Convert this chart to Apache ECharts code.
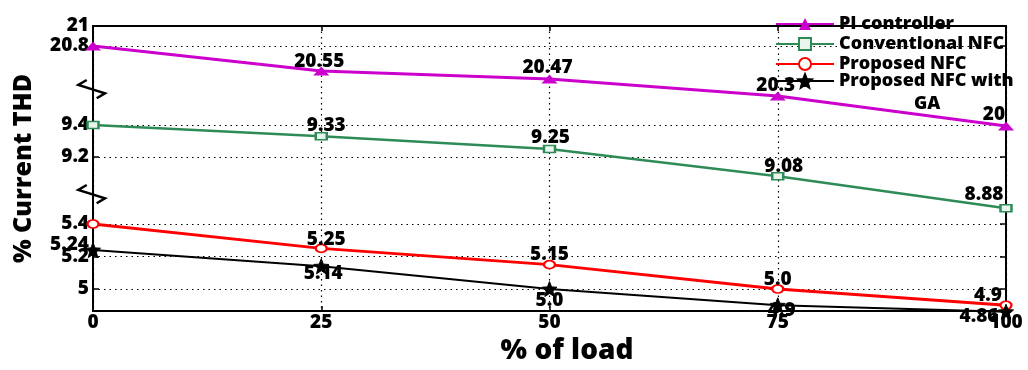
<!DOCTYPE html>
<html>
<head>
<meta charset="utf-8">
<script src="https://cdn.jsdelivr.net/npm/echarts@6/dist/echarts.min.js"></script>
<style>
  html, body { margin: 0; padding: 0; background: #fff; }
  #chart { width: 1028px; height: 370px; }
</style>
</head>
<body>
<div id="chart"></div>
<script>
// % of load on the x axis
const loads = [0, 25, 50, 75, 100];

// % current THD for each controller
const piController = [20.8, 20.55, 20.47, 20.3, 20];
const conventionalNfc = [9.4, 9.33, 9.25, 9.08, 8.88];
const proposedNfc = [5.4, 5.25, 5.15, 5.0, 4.9];
const proposedNfcGa = [5.24, 5.14, 5.0, 4.9, 4.86];

// value labels printed next to the points ('' = no label)
const piLabels = ['', '20.55', '20.47', '20.3', '20'];
const conventionalLabels = ['', '9.33', '9.25', '9.08', '8.88'];
const proposedLabels = ['', '5.25', '5.15', '5.0', '4.9'];
const proposedGaLabels = ['5.24', '5.14', '5.0', '4.9', '4.86'];

// y-axis ranges of the three stacked (broken) bands
const bandTop = { min: 20.8, max: 21, interval: 0.2 };
const bandMid = { min: 9.2, max: 9.4, interval: 0.2 };
const bandLow = { min: 5.0, max: 5.4, interval: 0.2 };

const seriesNames = ['PI controller', 'Conventional NFC', 'Proposed NFC', 'Proposed NFC with GA'];

// label offsets (px) relative to each point
const piOffsets = [[0, 0], [-2, -9], [-2, -11], [-2, -10], [-12, -11]];
const conventionalOffsets = [[0, 0], [5, -11], [1, -11], [6, -10], [-22, -14]];
const proposedOffsets = [[0, 0], [5, -9], [0, -10.5], [0, -9], [-18, -10]];
const proposedGaOffsets = [[-23.5, -5.5], [2, 7], [0, 11.5], [4, 5], [-27, 4.6]];

const FONT = '"Open Sans"';
const WEIGHT = 800;
const PLOT = { left: 93, right: 22 };

function points(values, labels, offsets) {
  return loads.map((x, i) => ({
    value: [x, values[i]],
    label: {
      show: labels[i] !== '',
      formatter: labels[i],
      position: 'inside',
      offset: offsets[i]
    }
  }));
}

const labelStyle = {
  fontFamily: FONT, fontSize: 19, fontWeight: WEIGHT, color: '#000'
};

function bandAxisLeft(gridIndex, band) {
  return {
    gridIndex, type: 'value', position: 'left',
    min: band.min, max: band.max, interval: band.interval,
    axisLine: { show: false },
    axisTick: { show: true, inside: true, length: 6, lineStyle: { color: '#000', width: 1.5 } },
    axisLabel: { color: '#000', fontFamily: FONT, fontSize: 19, fontWeight: WEIGHT, margin: 4 },
    splitLine: { show: true, lineStyle: { color: '#000', type: [1.5, 4], width: 1.2 } }
  };
}

function bandAxisRight(gridIndex, band) {
  return {
    gridIndex, type: 'value', position: 'right',
    min: band.min, max: band.max, interval: band.interval,
    axisLine: { show: false },
    axisTick: { show: true, inside: true, length: 6, lineStyle: { color: '#000', width: 1.5 } },
    axisLabel: { show: false },
    splitLine: { show: false }
  };
}

function hiddenX(gridIndex) {
  return { gridIndex, type: 'value', min: 0, max: 100, show: false };
}

const starPath = 'path://M0,-10L2.6,-3.5L9.5,-3.1L4.2,1.4L5.9,8.1L0,4.4L-5.9,8.1L-4.2,1.4L-9.5,-3.1L-2.6,-3.5Z';

const legendText = {
  fontFamily: FONT, fontSize: 18, fontWeight: WEIGHT, color: '#000', lineHeight: 20
};

const chart = echarts.init(document.getElementById('chart'), null, { renderer: 'canvas' });

const option = {
  animation: false,
  backgroundColor: '#fff',
  textStyle: { fontFamily: FONT },
  grid: [
    { left: PLOT.left, right: PLOT.right, top: 26, bottom: 47, show: true, borderColor: '#000', borderWidth: 2 },
    { left: PLOT.left, right: PLOT.right, top: 26, height: 20 },
    { left: PLOT.left, right: PLOT.right, top: 125, height: 32 },
    { left: PLOT.left, right: PLOT.right, top: 224, height: 65 }
  ],
  xAxis: [
    {
      gridIndex: 0, type: 'value', position: 'bottom', min: 0, max: 100, interval: 25,
      axisLine: { show: false },
      axisTick: { show: true, inside: true, length: 5, lineStyle: { color: '#000', width: 1.5 } },
      axisLabel: { color: '#000', fontFamily: FONT, fontSize: 19, fontWeight: WEIGHT, margin: 2 },
      splitLine: { show: true, lineStyle: { color: '#000', type: [1.5, 4], width: 1.2 } },
      name: '{n|% of load}', nameLocation: 'middle', nameGap: 25,
      nameTextStyle: {
        rich: { n: { color: '#000', fontFamily: FONT, fontSize: 28, fontWeight: WEIGHT, padding: [0, 0, 0, 35] } }
      }
    },
    {
      gridIndex: 0, type: 'value', position: 'top', min: 0, max: 100, interval: 25,
      axisLine: { show: false },
      axisTick: { show: true, inside: true, length: 5, lineStyle: { color: '#000', width: 1.5 } },
      axisLabel: { show: false },
      splitLine: { show: false }
    },
    hiddenX(1), hiddenX(2), hiddenX(3)
  ],
  yAxis: [
    {
      gridIndex: 0, type: 'value', min: 0, max: 1,
      axisLine: { show: false }, axisTick: { show: false }, axisLabel: { show: false }, splitLine: { show: false },
      name: '% Current THD', nameLocation: 'middle', nameGap: 57,
      nameTextStyle: { color: '#000', fontFamily: FONT, fontSize: 25, fontWeight: WEIGHT }
    },
    bandAxisLeft(1, bandTop), bandAxisLeft(2, bandMid), bandAxisLeft(3, bandLow),
    bandAxisRight(1, bandTop), bandAxisRight(2, bandMid), bandAxisRight(3, bandLow)
  ],
  legend: [
    {
      orient: 'vertical', left: 775, top: 14, padding: 0, itemGap: 0,
      itemWidth: 58, itemHeight: 15,
      textStyle: legendText,
      data: [seriesNames[0], seriesNames[1], seriesNames[2]]
    },
    {
      // last entry wraps onto a second, indented line
      orient: 'vertical', left: 775, top: 45, padding: 0, itemGap: 0,
      itemWidth: 58, itemHeight: 17,
      textStyle: Object.assign({}, legendText, {
        padding: [26, 0, 0, 0],
        rich: { g: { fontFamily: FONT, fontSize: 18, fontWeight: WEIGHT, color: '#000', lineHeight: 26, padding: [0, 0, 0, 75] } }
      }),
      data: [seriesNames[3]],
      formatter: () => 'Proposed NFC with\n{g|GA}'
    }
  ],
  graphic: [
    { type: 'polyline', z: 100, shape: { points: [[86.7, 80], [78.3, 85], [105, 93.3], [96.7, 98.3]] },
      style: { stroke: '#000', lineWidth: 2.5, fill: null } },
    { type: 'polyline', z: 100, shape: { points: [[86.7, 185], [78.3, 190], [105, 198.3], [96.7, 203.3]] },
      style: { stroke: '#000', lineWidth: 2.5, fill: null } }
  ],
  series: [
    {
      name: seriesNames[0], type: 'line', xAxisIndex: 2, yAxisIndex: 1, clip: false,
      data: points(piController, piLabels, piOffsets),
      symbol: 'triangle', symbolSize: [16, 9],
      lineStyle: { color: '#cc00cc', width: 3 },
      itemStyle: { color: '#cc00cc' },
      label: labelStyle
    },
    {
      name: seriesNames[1], type: 'line', xAxisIndex: 3, yAxisIndex: 2, clip: false,
      data: points(conventionalNfc, conventionalLabels, conventionalOffsets),
      symbol: 'rect', symbolSize: [11, 7],
      lineStyle: { color: '#2e8b57', width: 2.5 },
      itemStyle: { color: '#e8f4ec', borderColor: '#2e8b57', borderWidth: 2 },
      label: labelStyle
    },
    {
      name: seriesNames[2], type: 'line', xAxisIndex: 4, yAxisIndex: 3, clip: false,
      data: points(proposedNfc, proposedLabels, proposedOffsets),
      symbol: 'circle', symbolSize: [11, 8],
      lineStyle: { color: '#ff0000', width: 3 },
      itemStyle: { color: '#fff', borderColor: '#ff0000', borderWidth: 2 },
      label: labelStyle
    },
    {
      name: seriesNames[3], type: 'line', xAxisIndex: 4, yAxisIndex: 3, clip: false,
      data: points(proposedNfcGa, proposedGaLabels, proposedGaOffsets),
      symbol: starPath, symbolSize: 15,
      lineStyle: { color: '#000', width: 2 },
      itemStyle: { color: '#000', borderColor: '#000', borderWidth: 1 },
      label: labelStyle
    }
  ]
};

chart.setOption(option);
</script>
</body>
</html>
